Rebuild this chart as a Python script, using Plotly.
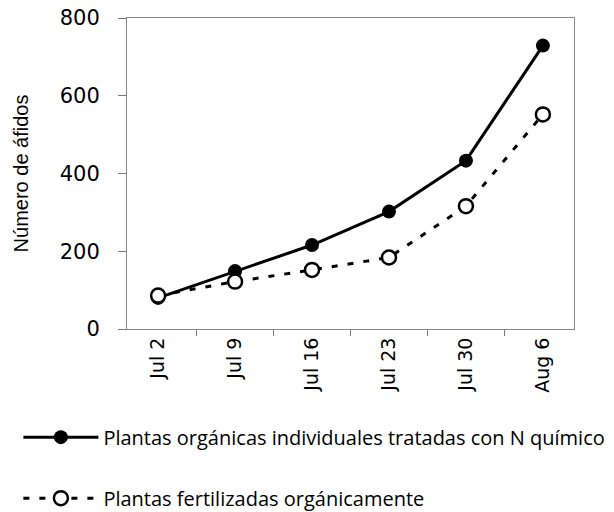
import plotly.graph_objects as go

fechas = ["Jul 2", "Jul 9", "Jul 16", "Jul 23", "Jul 30", "Aug 6"]
n_quimico = [80, 149, 216, 302, 433, 729]
organico = [86, 122, 152, 184, 316, 552]
serie_1 = "Plantas orgánicas individuales tratadas con N químico"
serie_2 = "Plantas fertilizadas orgánicamente"
y_ticks = [0, 200, 400, 600, 800]

fig = go.Figure()
fig.add_trace(go.Scatter(
    x=fechas, y=n_quimico, name=serie_1, mode="lines+markers",
    legendgroup="a",
    line=dict(color="black", width=3),
    marker=dict(symbol="circle", size=14, color="black"),
))
fig.add_trace(go.Scatter(
    x=fechas, y=organico, name=serie_2, mode="lines+markers",
    legendgroup="b",
    line=dict(color="black", width=3, dash="6px,10px"),
    marker=dict(symbol="circle", size=14, color="white",
                line=dict(color="black", width=2.5)),
))

fig.update_layout(
    width=614, height=512,
    margin=dict(l=127, r=40, t=18, b=183, autoexpand=False),
    paper_bgcolor="white", plot_bgcolor="white",
    font=dict(family="DejaVu Sans", color="black"),
    showlegend=True,
    legend=dict(
        x=-0.243, xanchor="left", y=-0.285, yanchor="top",
        orientation="v", traceorder="grouped", tracegroupgap=32,
        itemwidth=75,
        font=dict(family="Open Sans", size=20, color="black"),
        bgcolor="rgba(0,0,0,0)",
    ),
)
fig.update_xaxes(
    type="category", tickson="boundaries",
    ticks="outside", ticklen=6, tickcolor="#777",
    showline=True, linecolor="#888", linewidth=1, mirror=True,
    showgrid=False, tickangle=-90,
    tickfont=dict(family="DejaVu Sans", size=19),
)
fig.update_yaxes(
    range=[0, 800], tickvals=y_ticks,
    ticks="outside", ticklen=8, tickcolor="#777",
    showline=True, linecolor="#888", linewidth=1, mirror=True,
    showgrid=False, zeroline=False,
    tickfont=dict(family="DejaVu Sans", size=21),
    ticklabelstandoff=14,
    title=dict(text="Número de áfidos", standoff=25,
               font=dict(family="Liberation Sans", size=20)),
)

fig.write_html("out.html", config={"displayModeBar": False},
               post_script="document.body.style.margin='0';")
